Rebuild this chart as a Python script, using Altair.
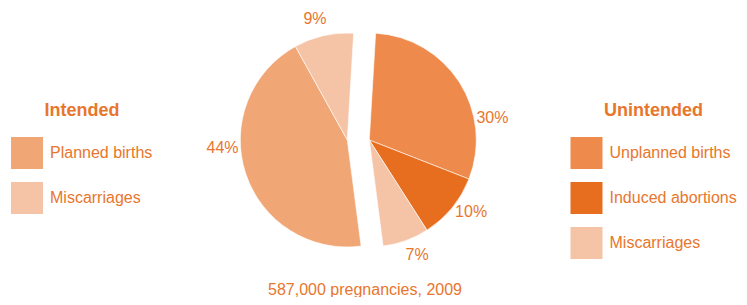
import math
import altair as alt
import pandas as pd

# ---- data ----
groups = ["Unintended", "Unintended", "Unintended", "Intended", "Intended"]
categories = ["Unplanned births", "Induced abortions", "Miscarriages", "Planned births", "Miscarriages"]
values = [30, 10, 7, 44, 9]
slice_order = [1, 2, 3, 4, 5]
unintended_cats = ["Unplanned births", "Induced abortions", "Miscarriages"]
intended_cats = ["Planned births", "Miscarriages"]
caption = "587,000 pregnancies, 2009"

# ---- style / layout ----
unintended_colors = ["#EE8B4C", "#E86E1F", "#F5C4A6"]
intended_colors = ["#F0A675", "#F5C4A6"]
ORANGE = "#E8762D"
FONT = "Liberation Sans"
ROT = math.radians(3.4)
label_nudge = [6.3, -1.1, -0.7, 4.1, -0.6]  # label angle shift, in percent units

df = pd.DataFrame({
    "group": groups,
    "category": categories,
    "value": values,
    "order": slice_order,
    "nudge": label_nudge,
})

theta_scale = alt.Scale(domain=[0, 100], range=[ROT, ROT + 2 * math.pi])
x_enc = alt.X("group:N", axis=None,
              scale=alt.Scale(type="point", domain=["Intended", "Unintended"],
                              range=[339.3, 361.3], padding=0))
y_val = alt.value(132)

base = alt.Chart(df).transform_window(
    cum="sum(value)", sort=[alt.SortField("order")]
).transform_calculate(
    start="datum.cum - datum.value",
    mid="datum.cum - datum.value / 2 + datum.nudge",
    label="datum.value + '%'",
)

legend_common = dict(
    orient="none",
    symbolType="square",
    symbolSize=1024,
    symbolStrokeWidth=0,
    rowPadding=13,
    labelOffset=7,
    titlePadding=17,
    padding=0,
    labelFont=FONT,
    labelFontSize=16,
    labelColor=ORANGE,
    labelLimit=300,
    titleFont=FONT,
    titleFontSize=18,
    titleFontWeight="bold",
    titleColor=ORANGE,
    titleAnchor="middle",
)

unintended = base.transform_filter(alt.datum.group == "Unintended").mark_arc(
    outerRadius=107, stroke="white", strokeWidth=0.6
).encode(
    theta=alt.Theta("start:Q", scale=theta_scale),
    theta2="cum:Q",
    x=x_enc,
    y=y_val,
    color=alt.Color("category:N",
                    scale=alt.Scale(domain=unintended_cats, range=unintended_colors),
                    legend=alt.Legend(title="Unintended", legendX=562.5, legendY=94,
                                      **legend_common)),
)

intended = base.transform_filter(alt.datum.group == "Intended").mark_arc(
    outerRadius=107, stroke="white", strokeWidth=0.6
).encode(
    theta=alt.Theta("start:Q", scale=theta_scale),
    theta2="cum:Q",
    x=x_enc,
    y=y_val,
    fill=alt.Fill("category:N",
                  scale=alt.Scale(domain=intended_cats, range=intended_colors),
                  legend=alt.Legend(title="Intended", legendX=3, legendY=94,
                                    **legend_common)),
)

labels = base.mark_text(font=FONT, fontSize=16, color=ORANGE,
                        align="center", baseline="middle").encode(
    theta=alt.Theta("mid:Q", scale=theta_scale),
    radius=alt.value(125),
    x=x_enc,
    y=y_val,
    text="label:N",
)

chart = alt.layer(intended, unintended, labels).properties(
    width=731,
    height=262,
    autosize="none",
    padding={"left": 0, "top": 0, "right": 0, "bottom": 27},
    title=alt.TitleParams(caption, orient="bottom", anchor="middle", dx=-8.5, offset=12,
                          font=FONT, fontSize=16, fontWeight="normal", color=ORANGE),
).resolve_scale(color="independent", fill="independent").configure_view(strokeWidth=0)

chart.save("out.html", embed_options={"renderer": "svg", "actions": False})
